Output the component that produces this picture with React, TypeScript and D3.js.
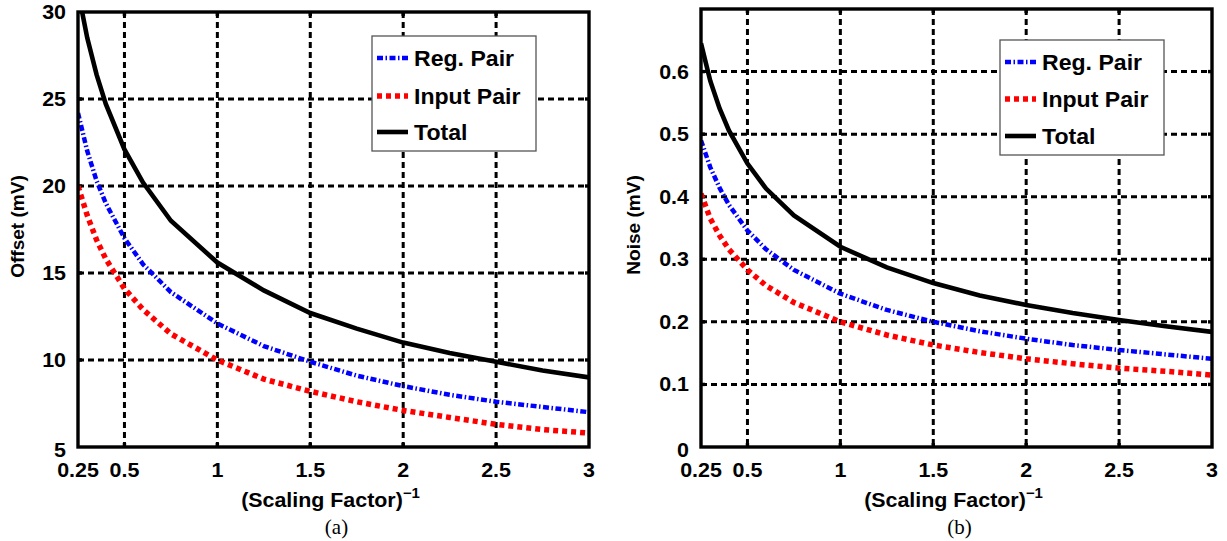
import React from "react";
import * as d3 from "d3";

const xValues = [0.25, 0.3, 0.35, 0.4, 0.5, 0.6, 0.75, 1, 1.25, 1.5, 1.75, 2, 2.25, 2.5, 2.75, 3];

const offsetReg = [24.2, 22.0, 20.3, 19.0, 17.0, 15.5, 13.9, 12.1, 10.8, 9.9, 9.1, 8.5, 8.0, 7.6, 7.3, 7.0];
const offsetInput = [20.0, 18.3, 16.9, 15.8, 14.1, 12.9, 11.5, 10.0, 8.9, 8.2, 7.6, 7.1, 6.7, 6.3, 6.0, 5.8];
const offsetTotal = [31.2, 28.5, 26.4, 24.7, 22.1, 20.2, 18.0, 15.6, 14.0, 12.7, 11.8, 11.0, 10.4, 9.9, 9.4, 9.0];

const noiseReg = [0.49, 0.447, 0.414, 0.387, 0.346, 0.316, 0.283, 0.245, 0.219, 0.2, 0.185, 0.173, 0.163, 0.155, 0.148, 0.141];
const noiseInput = [0.405, 0.365, 0.338, 0.316, 0.283, 0.258, 0.231, 0.2, 0.179, 0.163, 0.151, 0.141, 0.133, 0.126, 0.121, 0.115];
const noiseTotal = [0.645, 0.585, 0.541, 0.506, 0.453, 0.413, 0.37, 0.32, 0.287, 0.262, 0.242, 0.227, 0.214, 0.203, 0.193, 0.184];

const xTicks = [0.25, 0.5, 1, 1.5, 2, 2.5, 3];
const xTickLabels = ["0.25", "0.5", "1", "1.5", "2", "2.5", "3"];
const offsetTicks = [5, 10, 15, 20, 25, 30];
const noiseTicks = [0, 0.1, 0.2, 0.3, 0.4, 0.5, 0.6];

const seriesNames = ["Reg. Pair", "Input Pair", "Total"];

const FONT = "'Liberation Sans', Arial, Helvetica, sans-serif";

type Style = { color: string; width: number; dash: string | null };
const styles: Style[] = [
  { color: "#0000ff", width: 4.5, dash: "6,2.5,1.5,2.5" },
  { color: "#ff0000", width: 5.5, dash: "5,4" },
  { color: "#000000", width: 4.6, dash: null },
];

function SText(props: {
  x: number;
  y: number;
  size: number;
  sx?: number;
  anchor?: "start" | "middle" | "end";
  rotate?: number;
  bold?: boolean;
  family?: string;
  children: React.ReactNode;
}) {
  const sx = props.sx ?? 1.1;
  const rot = props.rotate ? ` rotate(${props.rotate})` : "";
  return (
    <text
      transform={`translate(${props.x},${props.y})${rot} scale(${sx},1)`}
      textAnchor={props.anchor ?? "start"}
      fontFamily={props.family ?? FONT}
      fontWeight={props.bold === false ? "normal" : "bold"}
      fontSize={props.size}
    >
      {props.children}
    </text>
  );
}

type PanelProps = {
  id: string;
  x0: number;
  x1: number;
  yTop: number;
  yBottom: number;
  yDomain: [number, number];
  yTicks: number[];
  yFmt: (v: number) => string;
  series: number[][];
  yLabel: string;
  yLabelX: number;
  legend: { x: number; y: number; w: number; h: number; rows: number[] };
  caption: string;
};

function Panel(p: PanelProps) {
  const x = d3.scaleLinear().domain([0.25, 3]).range([p.x0, p.x1]);
  const y = d3.scaleLinear().domain(p.yDomain).range([p.yBottom, p.yTop]);
  const line = d3
    .line<number>()
    .x((_, i) => x(xValues[i]))
    .y((d) => y(d));
  const cx = (p.x0 + p.x1) / 2;
  const gridX = xTicks.filter((t) => t !== 0.25 && t !== 3);
  const gridY = p.yTicks.filter((t) => t !== p.yDomain[0] && t !== p.yDomain[1]);
  return (
    <g>
      <defs>
        <clipPath id={`clip-${p.id}`}>
          <rect x={p.x0} y={p.yTop} width={p.x1 - p.x0} height={p.yBottom - p.yTop} />
        </clipPath>
      </defs>
      {gridX.map((t) => (
        <line key={`gx${t}`} x1={x(t)} x2={x(t)} y1={p.yTop} y2={p.yBottom} stroke="#000" strokeWidth={3} strokeDasharray="6,4" />
      ))}
      {gridY.map((t) => (
        <line key={`gy${t}`} x1={p.x0} x2={p.x1} y1={y(t)} y2={y(t)} stroke="#000" strokeWidth={3} strokeDasharray="6,4" />
      ))}
      {gridX.map((t) => (
        <g key={`tx${t}`}>
          <line x1={x(t)} x2={x(t)} y1={p.yBottom} y2={p.yBottom - 4} stroke="#000" strokeWidth={3.4} />
          <line x1={x(t)} x2={x(t)} y1={p.yTop} y2={p.yTop + 4} stroke="#000" strokeWidth={3.4} />
        </g>
      ))}
      {gridY.map((t) => (
        <g key={`ty${t}`}>
          <line x1={p.x0} x2={p.x0 + 4} y1={y(t)} y2={y(t)} stroke="#000" strokeWidth={3.4} />
          <line x1={p.x1} x2={p.x1 - 4} y1={y(t)} y2={y(t)} stroke="#000" strokeWidth={3.4} />
        </g>
      ))}
      <g clipPath={`url(#clip-${p.id})`}>
        {p.series.map((s, i) => (
          <path
            key={i}
            d={line(s) || ""}
            fill="none"
            stroke={styles[i].color}
            strokeWidth={styles[i].width}
            strokeDasharray={styles[i].dash || undefined}
          />
        ))}
      </g>
      <rect x={p.x0} y={p.yTop} width={p.x1 - p.x0} height={p.yBottom - p.yTop} fill="none" stroke="#000" strokeWidth={3.4} />
      {xTicks.map((t, i) => (
        <SText key={`xt${t}`} x={x(t)} y={p.yBottom + 30} size={19.5} anchor="middle">
          {xTickLabels[i]}
        </SText>
      ))}
      {p.yTicks.map((t) => (
        <SText key={`yt${t}`} x={p.x0 - 12} y={y(t) + 7 + (t === p.yDomain[0] ? 3 : 0)} size={19.5} anchor="end">
          {p.yFmt(t)}
        </SText>
      ))}
      <SText x={cx - 3} y={p.yBottom + 60} size={20} sx={1.07} anchor="middle">
        (Scaling Factor)
        <tspan dy={-9} fontSize={14}>−1</tspan>
      </SText>
      <SText x={cx + 3} y={p.yBottom + 87} size={20} sx={1.05} anchor="middle" bold={false} family="'Liberation Serif', 'Times New Roman', serif">
        {p.caption}
      </SText>
      <SText x={p.yLabelX + 6} y={(p.yTop + p.yBottom) / 2 - 3} size={18} sx={1.06} anchor="middle" rotate={-90}>
        {p.yLabel}
      </SText>
      <rect x={p.legend.x} y={p.legend.y} width={p.legend.w} height={p.legend.h} fill="#fff" stroke="#555" strokeWidth={1.3} />
      {seriesNames.map((name, i) => {
        const ry = p.legend.rows[i];
        return (
          <g key={name}>
            <line
              x1={p.legend.x + 5}
              x2={p.legend.x + 36}
              y1={ry}
              y2={ry}
              stroke={styles[i].color}
              strokeWidth={styles[i].width}
              strokeDasharray={styles[i].dash || undefined}
            />
            <SText x={p.legend.x + 42} y={ry + 8} size={22} sx={1.05}>
              {name}
            </SText>
          </g>
        );
      })}
    </g>
  );
}

export default function App() {
  return (
    <svg width={1227} height={541} style={{ position: "absolute", left: 0, top: 0, background: "#fff" }}>
      <rect width={1227} height={541} fill="#fff" />
      <Panel
        id="a"
        x0={78}
        x1={589}
        yTop={12}
        yBottom={447}
        yDomain={[5, 30]}
        yTicks={offsetTicks}
        yFmt={(v) => String(v)}
        series={[offsetReg, offsetInput, offsetTotal]}
        yLabel="Offset (mV)"
        yLabelX={18}
        legend={{ x: 372, y: 36, w: 164, h: 115, rows: [58, 96, 132] }}
        caption="(a)"
      />
      <Panel
        id="b"
        x0={701}
        x1={1212}
        yTop={9}
        yBottom={447}
        yDomain={[0, 0.7]}
        yTicks={noiseTicks}
        yFmt={(v) => (v === 0 ? "0" : d3.format(".1f")(v))}
        series={[noiseReg, noiseInput, noiseTotal]}
        yLabel="Noise (mV)"
        yLabelX={634}
        legend={{ x: 1000, y: 40, w: 164, h: 115, rows: [62, 99, 136] }}
        caption="(b)"
      />
    </svg>
  );
}
